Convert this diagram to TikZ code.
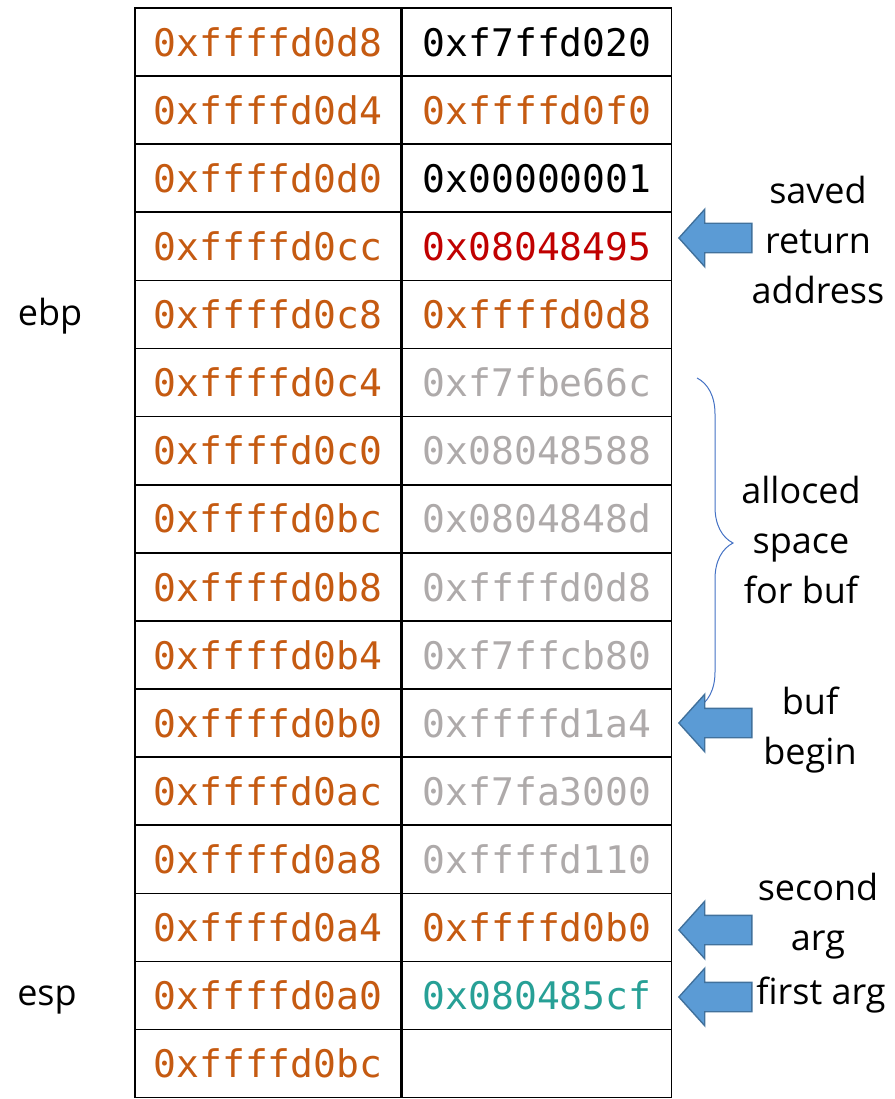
\documentclass[tikz,border=0pt]{standalone}
\usepackage{fontspec}
\setmainfont{Open Sans}
\setmonofont{DejaVu Sans Mono}
\usetikzlibrary{shapes.arrows,decorations.pathreplacing,positioning}
\definecolor{stkorange}{HTML}{C55A11}
\definecolor{stkred}{HTML}{C00000}
\definecolor{stkgray}{HTML}{AEAAAA}
\definecolor{stkteal}{HTML}{27A096}
\definecolor{stkarrow}{HTML}{5B9BD5}
\definecolor{stkedge}{HTML}{41719C}
\definecolor{stkbrace}{HTML}{4472C4}

\begin{document}
\begin{tikzpicture}[x=1pt,y=-1pt,
  cell/.style={rectangle, draw=black, line width=1.6pt, minimum height=68.1pt, inner sep=0pt, font=\ttfamily\fontsize{38}{40}\selectfont},
  addr/.style={cell, minimum width=266pt, text=stkorange},
  val/.style={cell, minimum width=269pt},
  ptr/.style={single arrow, shape border rotate=180, draw=stkedge, fill=stkarrow, line width=1.4pt, minimum width=56pt, minimum height=73pt, single arrow head extend=14pt, single arrow tip angle=96, inner xsep=0pt, inner ysep=14pt},
  lbl/.style={font=\fontsize{36}{50}\selectfont, align=center}]
\useasboundingbox (0,0) rectangle (894,1099);
% stack cells
\foreach \a/\v/\c [count=\i from 0] in {d8/f7ffd020/black, d4/ffffd0f0/stkorange, d0/00000001/black, cc/08048495/stkred, c8/ffffd0d8/stkorange, c4/f7fbe66c/stkgray, c0/08048588/stkgray, bc/0804848d/stkgray, b8/ffffd0d8/stkgray, b4/f7ffcb80/stkgray, b0/ffffd1a4/stkgray, ac/f7fa3000/stkgray, a8/ffffd110/stkgray, a4/ffffd0b0/stkorange, a0/080485cf/stkteal, bc//black}
{
  \node[addr] (a\i) at (268,42.05+68.1*\i) {0xffffd0\a};
  \node[val, right=0pt of a\i, text=\c] (v\i) {\ifx\v\empty\else0x\v\fi};
}
% register labels
\node[lbl] (ebp) at (50,316) {ebp};
\node[lbl] (esp) at (47,1000) {esp};
% buffer brace
\draw[stkbrace, line width=1pt, decorate, decoration={brace, amplitude=36pt}] (697,378) -- (697,708);
% pointers
\node[ptr] (retptr) at (722,238) {};
\node[ptr] (bufptr) at (722,723) {};
\node[ptr] (arg2ptr) at (722,930) {};
\node[ptr] (arg1ptr) at (722,997) {};
\node[lbl] (ret) at (818,240) {saved\\return\\address};
\node[lbl] (space) at (801,540) {alloced\\space\\for buf};
\node[lbl] (buf) at (810,730) {buf\\begin};
\node[lbl] (arg2) at (818,916) {second\\arg};
\node[lbl] (arg1) at (821,995) {first arg};
\end{tikzpicture}
\end{document}
